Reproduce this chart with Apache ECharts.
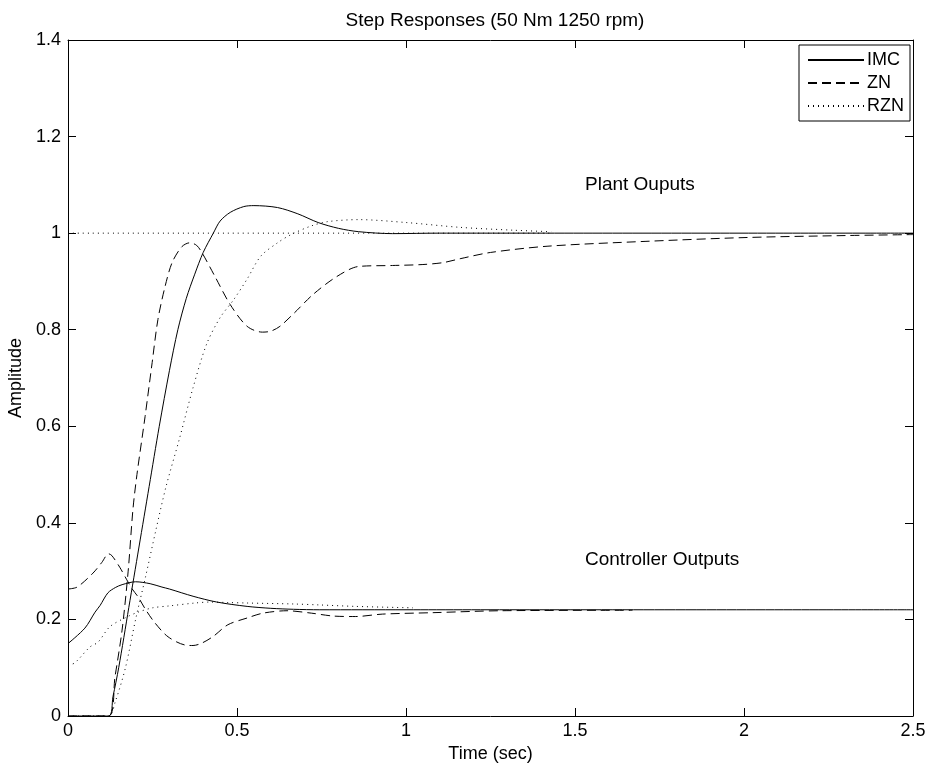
<!DOCTYPE html>
<html>
<head>
<meta charset="utf-8">
<script src="https://cdn.jsdelivr.net/npm/echarts@6/dist/echarts.min.js"></script>
<style>html,body{margin:0;padding:0;background:#fff}#c{width:943px;height:767px}</style>
</head>
<body>
<div id="c"></div>
<script>
// ---- data ----
const xTickLabels = ['0', '0.5', '1', '1.5', '2', '2.5'];
const yTickLabels = ['0', '0.2', '0.4', '0.6', '0.8', '1', '1.2', '1.4'];

// Plant outputs
const imcPlantT = [0, 0.12, 0.133, 0.15, 0.18, 0.21, 0.24, 0.27, 0.30, 0.325, 0.35, 0.375, 0.40, 0.43, 0.45, 0.48, 0.52, 0.55, 0.62, 0.68, 0.74, 0.80, 0.86, 0.96, 1.1, 2.5];
const imcPlantY = [0, 0, 0.04, 0.10, 0.225, 0.35, 0.475, 0.60, 0.715, 0.8, 0.865, 0.915, 0.96, 1.00, 1.025, 1.043, 1.055, 1.057, 1.053, 1.04, 1.022, 1.01, 1.003, 0.999, 1.0, 1.0];

const znPlantT = [0, 0.12, 0.139, 0.16, 0.178, 0.192, 0.204, 0.228, 0.249, 0.266, 0.287, 0.308, 0.337, 0.36, 0.38, 0.396, 0.435, 0.48, 0.53, 0.575, 0.60, 0.627, 0.67, 0.725, 0.795, 0.86, 0.96, 1.05, 1.11, 1.16, 1.25, 1.42, 1.71, 2.01, 2.3, 2.5];
const znPlantY = [0, 0, 0.081, 0.178, 0.30, 0.427, 0.50, 0.62, 0.732, 0.821, 0.889, 0.939, 0.972, 0.98, 0.975, 0.96, 0.91, 0.852, 0.807, 0.795, 0.797, 0.807, 0.835, 0.873, 0.91, 0.931, 0.933, 0.935, 0.939, 0.947, 0.96, 0.973, 0.983, 0.991, 0.995, 0.997];

const rznPlantT = [0, 0.12, 0.14, 0.17, 0.20, 0.23, 0.26, 0.29, 0.33, 0.37, 0.41, 0.45, 0.49, 0.53, 0.57, 0.62, 0.66, 0.72, 0.77, 0.86, 1.0, 1.16, 1.32, 1.43];
const rznPlantY = [0, 0, 0.03, 0.10, 0.20, 0.29, 0.385, 0.475, 0.575, 0.68, 0.77, 0.825, 0.862, 0.905, 0.952, 0.98, 0.997, 1.015, 1.024, 1.028, 1.022, 1.012, 1.006, 1.003];

// Set-point (dotted) line
const setpointT = [0, 1.43];
const setpointY = [1, 1];

// Controller outputs
const imcCtrlT = [0, 0.05, 0.08, 0.095, 0.118, 0.14, 0.16, 0.20, 0.243, 0.278, 0.30, 0.37, 0.44, 0.53, 0.60, 0.667, 0.745, 1.0, 2.5];
const imcCtrlY = [0.15, 0.182, 0.215, 0.229, 0.255, 0.266, 0.272, 0.278, 0.274, 0.267, 0.263, 0.248, 0.236, 0.227, 0.223, 0.221, 0.22, 0.22, 0.22];

const znCtrlT = [0, 0.027, 0.074, 0.10, 0.12, 0.13, 0.154, 0.174, 0.19, 0.207, 0.23, 0.257, 0.296, 0.346, 0.37, 0.396, 0.43, 0.473, 0.53, 0.577, 0.648, 0.72, 0.785, 0.85, 0.93, 1.08, 1.28, 1.67];
const znCtrlY = [0.263, 0.267, 0.296, 0.318, 0.336, 0.332, 0.307, 0.282, 0.263, 0.247, 0.22, 0.193, 0.164, 0.147, 0.146, 0.151, 0.165, 0.189, 0.203, 0.213, 0.218, 0.213, 0.207, 0.206, 0.211, 0.214, 0.218, 0.219];

const rznCtrlT = [0, 0.02, 0.065, 0.089, 0.124, 0.174, 0.207, 0.25, 0.30, 0.376, 0.42, 0.473, 0.53, 0.667, 0.745, 0.85, 1.02];
const rznCtrlY = [0.105, 0.11, 0.143, 0.153, 0.185, 0.205, 0.215, 0.224, 0.228, 0.234, 0.236, 0.235, 0.234, 0.232, 0.23, 0.227, 0.224];

// ---- chart ----
const FONT = 'Liberation Sans';
function pairs(t, y) { return t.map((v, i) => [v, y[i]]); }

const styles = {
  IMC: { color: '#000', width: 1, type: 'solid' },
  ZN:  { color: '#000', width: 1, type: [9, 5] },
  RZN: { color: '#000', width: 1, type: [1, 4] }
};

function mk(name, t, y) {
  return {
    name: name, type: 'line', data: pairs(t, y),
    symbol: 'none', smooth: 0.3,
    lineStyle: styles[name], itemStyle: { color: '#000' },
    emphasis: { disabled: true }, animation: false, z: 3
  };
}

const chart = echarts.init(document.getElementById('c'), null, { renderer: 'canvas' });

function axisCommon() {
  return {
    axisLine: { show: true, onZero: false, lineStyle: { color: '#000', width: 1 } },
    axisTick: { show: true, inside: true, length: 8, lineStyle: { color: '#000' } },
    splitLine: { show: false }
  };
}

chart.setOption({
  backgroundColor: '#fff',
  animation: false,
  title: {
    text: 'Step Responses (50 Nm 1250 rpm)',
    left: 490, top: 6, textAlign: 'center',
    textStyle: { fontFamily: FONT, fontSize: 19, fontWeight: 'normal', color: '#000' }
  },
  grid: { left: 68, right: 30, top: 40, bottom: 51, containLabel: false, outerBoundsMode: 'none' },
  legend: {
    data: ['IMC', 'ZN', 'RZN'],
    orient: 'vertical', right: 33, top: 45,
    itemWidth: 56, itemHeight: 12, itemGap: 5, align: 'left',
    backgroundColor: '#fff', borderColor: '#000', borderWidth: 1,
    padding: [6, 6, 6, 8], selectedMode: false,
    itemStyle: { color: 'rgba(0,0,0,0)', borderColor: 'rgba(0,0,0,0)', borderWidth: 0, opacity: 0 },
    textStyle: { fontFamily: FONT, fontSize: 18, color: '#000', padding: [0, 0, 0, -2] }
  },
  xAxis: [
    Object.assign({
      type: 'value', min: 0, max: 2.5, interval: 0.5, position: 'bottom',
      name: 'Time (sec)', nameLocation: 'middle', nameGap: 27,
      nameTextStyle: { fontFamily: FONT, fontSize: 18, color: '#000' },
      axisLabel: { fontFamily: FONT, fontSize: 18, color: '#000', margin: 6,
        formatter: v => xTickLabels[Math.round(v / 0.5)] }
    }, axisCommon()),
    Object.assign({
      type: 'value', min: 0, max: 2.5, interval: 0.5, position: 'top',
      axisLabel: { show: false }
    }, axisCommon())
  ],
  yAxis: [
    Object.assign({
      type: 'value', min: 0, max: 1.4, interval: 0.2, position: 'left',
      name: 'Amplitude', nameLocation: 'middle', nameGap: 41, nameRotate: 90,
      nameTextStyle: { fontFamily: FONT, fontSize: 18, color: '#000' },
      axisLabel: { fontFamily: FONT, fontSize: 18, color: '#000', margin: 7,
        formatter: v => yTickLabels[Math.round(v / 0.2)] }
    }, axisCommon()),
    Object.assign({
      type: 'value', min: 0, max: 1.4, interval: 0.2, position: 'right',
      axisLabel: { show: false }
    }, axisCommon())
  ],
  graphic: [
    { type: 'text', left: 585, top: 175, z: 10,
      style: { text: 'Plant Ouputs', font: '19px "' + FONT + '"', fill: '#000' } },
    { type: 'text', left: 585, top: 550, z: 10,
      style: { text: 'Controller Outputs', font: '19px "' + FONT + '"', fill: '#000' } }
  ],
  series: [
    mk('IMC', imcPlantT, imcPlantY),
    mk('IMC', imcCtrlT, imcCtrlY),
    mk('ZN', znPlantT, znPlantY),
    mk('ZN', znCtrlT, znCtrlY),
    mk('RZN', rznPlantT, rznPlantY),
    mk('RZN', rznCtrlT, rznCtrlY),
    mk('RZN', setpointT, setpointY)
  ]
});
</script>
</body>
</html>
